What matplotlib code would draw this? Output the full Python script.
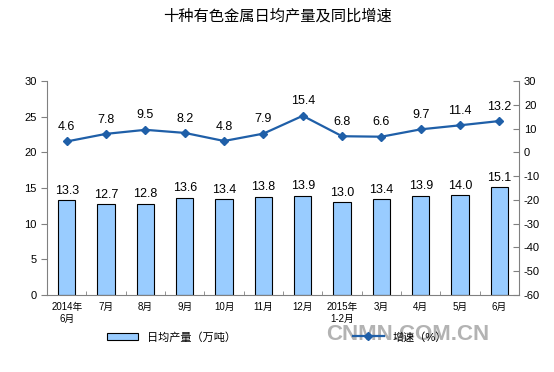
import matplotlib
matplotlib.use('agg')
import matplotlib.pyplot as plt
import numpy as np

plt.rcParams['font.family'] = ['Liberation Sans', 'Noto Sans CJK SC']
plt.rcParams['axes.unicode_minus'] = False

months = ['2014年\n6月', '7月', '8月', '9月', '10月', '11月', '12月',
          '2015年\n1-2月', '3月', '4月', '5月', '6月']
output = [13.3, 12.7, 12.8, 13.6, 13.4, 13.8, 13.9, 13.0, 13.4, 13.9, 14.0, 15.1]
growth = [4.6, 7.8, 9.5, 8.2, 4.8, 7.9, 15.4, 6.8, 6.6, 9.7, 11.4, 13.2]

bar_color = '#99CCFF'
line_color = '#1F5FA8'

fig = plt.figure(figsize=(5.54, 3.72), dpi=100)
ax = fig.add_axes([0.085, 0.207, 0.852, 0.575])
ax2 = ax.twinx()

x = np.arange(len(months))
ax.bar(x, output, width=0.44, color=bar_color, edgecolor='black', linewidth=0.8,
       label='日均产量（万吨）', zorder=2)
for xi, v in zip(x, output):
    ax.text(xi, v + 0.5, f'{v:.1f}', ha='center', va='bottom', fontsize=9)

ax2.plot(x, growth, color=line_color, marker='D', markersize=4, linewidth=1.6,
         label='增速（%）')
for xi, v in zip(x, growth):
    ax2.text(xi, v + 3.5, f'{v:.1f}', ha='center', va='bottom', fontsize=9)

ax.set_xlim(-0.5, len(months) - 0.5)
ax.set_ylim(0, 30)
ax.set_yticks(range(0, 31, 5))
ax2.set_ylim(-60, 30)
ax2.set_yticks(range(-60, 31, 10))

ax.set_xticks(x)
ax.set_xticklabels(months, fontsize=7)
ax.set_xticks(np.arange(-0.5, len(months), 1), minor=True)
ax.tick_params(axis='x', which='major', length=0, pad=5)
ax.tick_params(axis='x', which='minor', direction='in', length=3, color='#808080')
ax.tick_params(axis='y', labelsize=8, direction='out', length=4, color='#808080')
ax2.tick_params(axis='y', labelsize=8, direction='in', length=4, color='#808080')

for a in (ax, ax2):
    a.spines['top'].set_visible(False)
    for s in ('left', 'right', 'bottom'):
        a.spines[s].set_color('#808080')
ax.spines['right'].set_visible(False)
ax2.spines['left'].set_visible(False)
ax2.spines['bottom'].set_visible(False)

fig.text(0.5, 0.955, '十种有色金属日均产量及同比增速', ha='center', va='center', fontsize=11)

h1, l1 = ax.get_legend_handles_labels()
h2, l2 = ax2.get_legend_handles_labels()
fig.legend(h1 + h2, l1 + l2, loc='center', bbox_to_anchor=(0.5, 0.094), ncol=2,
           frameon=False, fontsize=8, columnspacing=10.5, handlelength=2.8)

# watermark of the source site
fig.text(0.735, 0.1, 'CNMN.COM.CN', ha='center', va='center', fontsize=16,
         fontweight='bold', color='#a0a0a0', alpha=0.8)

fig.savefig('out.png', dpi=100)
